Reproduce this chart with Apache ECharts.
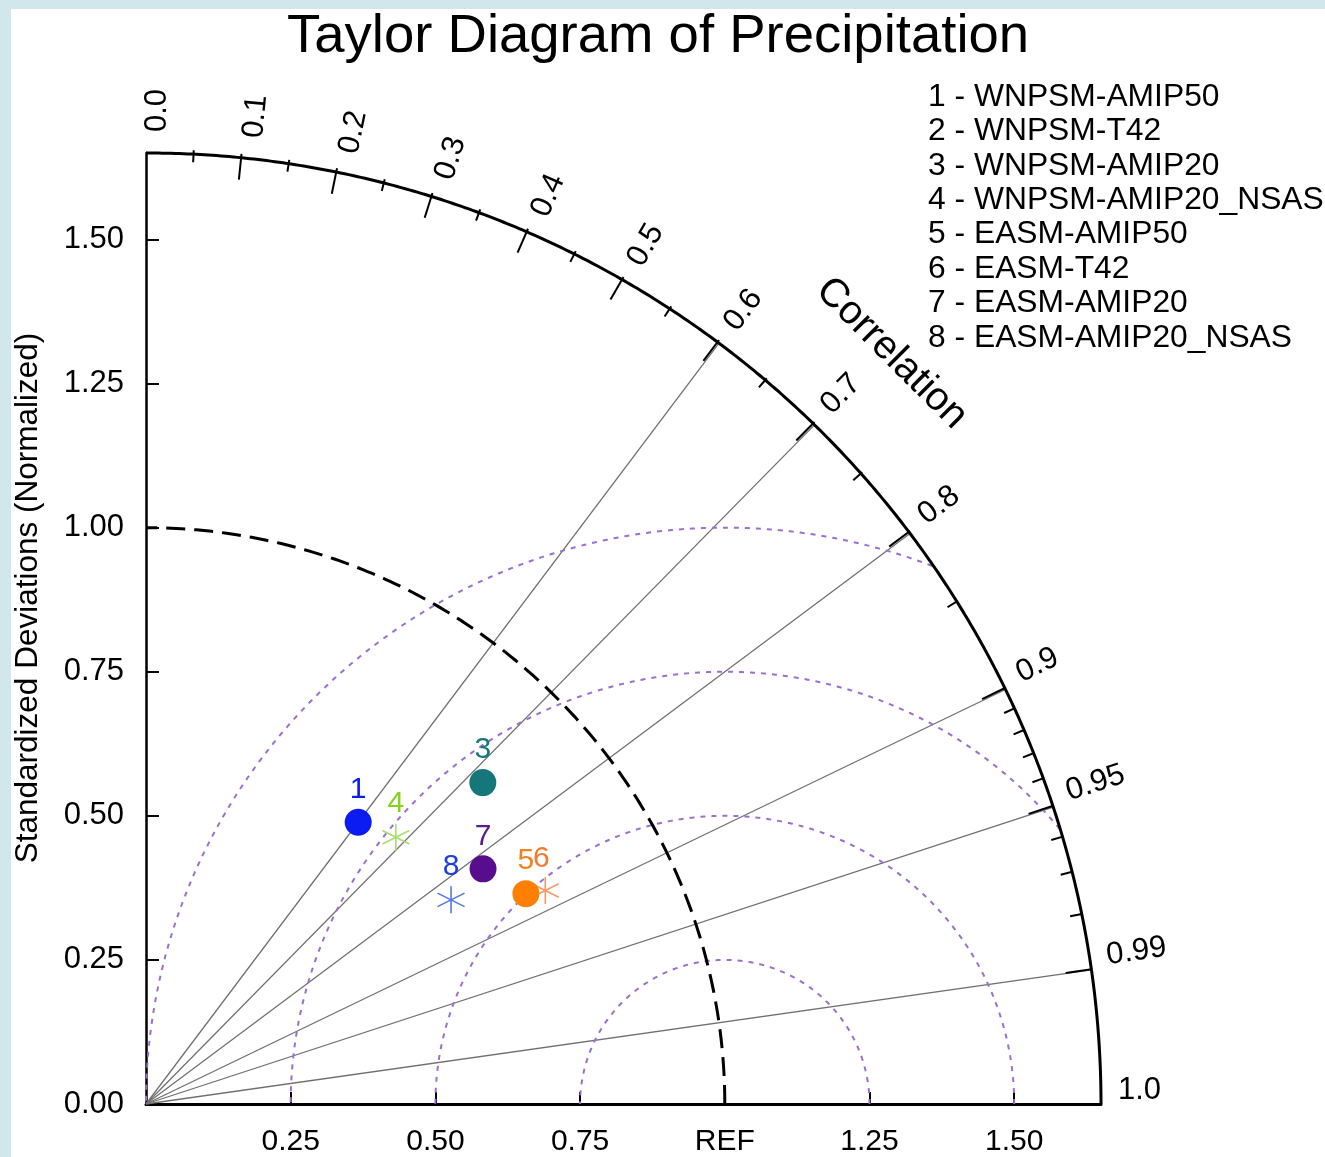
<!DOCTYPE html>
<html>
<head>
<meta charset="utf-8">
<title>Taylor Diagram of Precipitation</title>
<script src="https://cdn.jsdelivr.net/npm/echarts@6/dist/echarts.min.js"></script>
<style>
html,body{margin:0;padding:0;background:#d1e7eb;}
#wrap{position:relative;width:1325px;height:1157px;overflow:hidden;}
#main{position:absolute;left:11px;top:9px;width:1314px;height:1148px;background:#fff;}
</style>
</head>
<body>
<div id="wrap"><div id="main"></div></div>
<script>
// 模式名称、相关系数、标准差
var modelNames = ['WNPSM-AMIP50','WNPSM-T42','WNPSM-AMIP20','WNPSM-AMIP20_NSAS','EASM-AMIP50','EASM-T42','EASM-AMIP20','EASM-AMIP20_NSAS'];
var corrVals = [0.600, null, 0.722, 0.682, 0.874, 0.881, 0.819, 0.830];
var stdVals  = [0.611, null, 0.806, 0.633, 0.751, 0.783, 0.711, 0.635];//2号点图上看不到
var markerShape = ['circle','circle','circle','asterisk','circle','asterisk','circle','asterisk'];
var markerColor = ['#0a1cf2','#e0302a','#15777a','#a6de70','#ff8000','#f7996a','#580c8e','#5577e6'];
var labelColor  = ['#0a1cf2','#e0302a','#15777a','#86d21e','#f5801e','#f07a30','#5a1a92','#1f3fd8'];
var labelShift  = [[0,0],[0,0],[0,0],[0,0],[0,0],[-4,2],[0,0],[0,0]];

var stdMax = 1.65;
var refStd = 1.0;
var xTicks = [0.25,0.5,0.75,1.0,1.25,1.5];
var yTicks = [0,0.25,0.5,0.75,1.0,1.25,1.5];
var corrLines = [0.6,0.7,0.8,0.9,0.95,0.99];
var corrMajor = [0.1,0.2,0.3,0.4,0.5,0.6,0.7,0.8,0.9,0.95,0.99];
var corrMinor = [0.05,0.15,0.25,0.35,0.45,0.55,0.65,0.75,0.85,0.91,0.92,0.93,0.94,0.96,0.97,0.98];
var corrLabels = [0.0,0.1,0.2,0.3,0.4,0.5,0.6,0.7,0.8,0.9,0.95,0.99,1.0];
var rmsRadii = [0.25,0.5,0.75,1.0];

var font = 'Liberation Sans, Arial, Helvetica, sans-serif';
var asterisk = 'path://M0,-10L0,10M-8.66,-5L8.66,5M-8.66,5L8.66,-5';

function toXY(s, r){ //极坐标(标准差,相关系数)转直角坐标
	var t = Math.acos(r);
	return [s*Math.cos(t), s*Math.sin(t)];
}

function renderFrame(params, api){
	var o = api.coord([0,0]);
	var R = api.coord([stdMax,0])[0] - o[0];
	var kids = [];
	function polar(rad, ang){ return [o[0]+rad*Math.cos(ang), o[1]-rad*Math.sin(ang)]; }
	// 相关系数射线
	corrLines.forEach(function(r){
		var p = api.coord(toXY(stdMax, r));
		kids.push({type:'line', shape:{x1:o[0],y1:o[1],x2:p[0],y2:p[1]}, style:{stroke:'#707070',lineWidth:1.3}});
	});
	// 中心化均方根误差圆弧
	rmsRadii.forEach(function(d){
		var pts = [];
		for(var i=0;i<=720;i++){
			var a = Math.PI*i/720;
			var x = refStd + d*Math.cos(a), y = d*Math.sin(a);
			if(x*x+y*y <= stdMax*stdMax && x >= 0) pts.push(api.coord([x,y]));
		}
		kids.push({type:'polyline', shape:{points:pts}, style:{stroke:'#9a6fd2',lineWidth:2,lineDash:[5,6],fill:null}});
	});
	// 参考标准差虚线
	var ref = [];
	for(var j=0;j<=180;j++){
		var b = Math.PI/2*j/180;
		ref.push(api.coord([refStd*Math.cos(b), refStd*Math.sin(b)]));
	}
	kids.push({type:'polyline', shape:{points:ref}, style:{stroke:'#000',lineWidth:3,lineDash:[19,9],fill:null}});
	// 外圈
	var outer = [];
	for(var k=0;k<=360;k++){
		var c = Math.PI/2*k/360;
		outer.push(api.coord([stdMax*Math.cos(c), stdMax*Math.sin(c)]));
	}
	kids.push({type:'polyline', shape:{points:outer}, style:{stroke:'#000',lineWidth:3,fill:null}});
	// 刻度
	corrMajor.forEach(function(r){
		var t = Math.acos(r), p1 = polar(R,t), p2 = polar(R-26,t);
		kids.push({type:'line', shape:{x1:p1[0],y1:p1[1],x2:p2[0],y2:p2[1]}, style:{stroke:'#000',lineWidth:2}});
	});
	corrMinor.forEach(function(r){
		var t = Math.acos(r), p1 = polar(R,t), p2 = polar(R-12,t);
		kids.push({type:'line', shape:{x1:p1[0],y1:p1[1],x2:p2[0],y2:p2[1]}, style:{stroke:'#000',lineWidth:2}});
	});
	// 刻度标签
	corrLabels.forEach(function(r){
		var t = Math.acos(r);
		var d = (0.8 - 1.5*t/(Math.PI/2))*Math.PI/180;
		var p = polar(R+17, t+d);
		var txt = r===0 ? '0.0' : (r===1 ? '1.0' : String(r));
		kids.push({type:'text', x:p[0], y:p[1], rotation:t,
			style:{text:txt, fontSize:31, fontFamily:font, fill:'#000', align:'left', verticalAlign:'middle'}});
	});
	var pc = polar(R+103, 45.2*Math.PI/180);
	kids.push({type:'text', x:pc[0], y:pc[1], rotation:-Math.PI/4,
		style:{text:'Correlation', fontSize:40, fontFamily:font, fill:'#000', align:'center', verticalAlign:'middle'}});
	return {type:'group', children:kids};
}

var myChart = echarts.init(document.getElementById('main'));
var series = [{
	type:'custom',
	coordinateSystem:'cartesian2d',
	renderItem:renderFrame,
	data:[[0,0]],
	clip:false,
	silent:true,
	z:2
}];
modelNames.forEach(function(name,i){
	if(stdVals[i]==null) return;
	var star = markerShape[i]==='asterisk';
	series.push({
		type:'scatter',
		name:name,
		data:[toXY(stdVals[i], corrVals[i])],
		symbol: star ? asterisk : 'circle',
		symbolSize:27,
		itemStyle: star ? {color:'rgba(0,0,0,0)',borderColor:markerColor[i],borderWidth:1.6,opacity:1} : {color:markerColor[i],opacity:1},
		label:{show:true, position:'top', distance:4, offset:labelShift[i], formatter:String(i+1), fontSize:30, fontFamily:font, color:labelColor[i]},
		z: star ? 4 : 5
	});
});

var graphics = modelNames.map(function(n,i){
	return {type:'text', x:917, y:88+i*34.4,
		style:{text:(i+1)+' - '+n, fontSize:31.8, fontFamily:font, fill:'#000', align:'left', verticalAlign:'middle'}};
});
graphics.push({type:'text', x:17, y:589, rotation:Math.PI/2,
	style:{text:'Standardized Deviations (Normalized)', fontSize:31.5, fontFamily:font, fill:'#000', align:'center', verticalAlign:'middle'}});

var option = {
	animation:false,
	textStyle:{fontFamily:font},
	title:{
		text:'Taylor Diagram of Precipitation',
		left:276, top:0, padding:0,
		textStyle:{fontSize:54.5, fontWeight:'normal', color:'#000', fontFamily:font}
	},
	grid:{left:135, top:144, width:955, height:955, containLabel:false},
	xAxis:{
		type:'value', min:0, max:stdMax,
		axisLine:{show:true, onZero:false, lineStyle:{color:'#000',width:3}},
		axisTick:{show:true, inside:true, length:12, customValues:xTicks, lineStyle:{color:'#000',width:2}},
		axisLabel:{customValues:xTicks, margin:23, fontSize:30, color:'#000',
			formatter:function(v){ return v===refStd ? 'REF' : v.toFixed(2); }},
		splitLine:{show:false}
	},
	yAxis:{
		type:'value', min:0, max:stdMax,
		axisLine:{show:true, onZero:false, lineStyle:{color:'#000',width:2.5}},
		axisTick:{show:true, inside:true, length:13, customValues:yTicks.slice(1), lineStyle:{color:'#000',width:2}},
		axisLabel:{customValues:yTicks, margin:22, fontSize:31, color:'#000',
			formatter:function(v){ return v.toFixed(2); }},
		splitLine:{show:false}
	},
	graphic:graphics,
	series:series
};
myChart.setOption(option);
</script>
</body>
</html>
